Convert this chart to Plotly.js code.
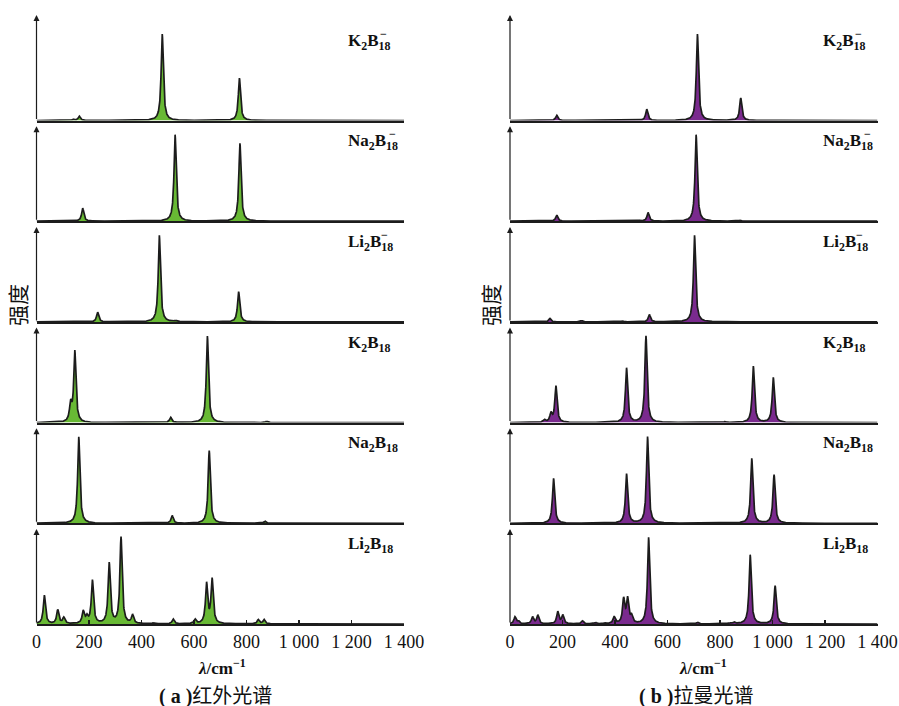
<!DOCTYPE html>
<html>
<head>
<meta charset="utf-8">
<script src="https://cdn.plot.ly/plotly-3.0.1.min.js"></script>
<style>
  html, body { margin: 0; padding: 0; background: #fff; }
  #myPlot { width: 899px; height: 706px; }
</style>
</head>
<body>
<div id="myPlot"></div>
<script>
// peak positions (cm-1) and relative intensities
// (a) IR spectra
let irK2B18m_pos = [140, 163, 479, 773];
let irK2B18m_int = [0.015, 0.05, 1.0, 0.49];
let irNa2B18m_pos = [176, 528, 775];
let irNa2B18m_int = [0.15, 1.0, 0.9];
let irLi2B18m_pos = [233, 468, 530, 770];
let irLi2B18m_int = [0.11, 1.0, 0.012, 0.35];
let irK2B18_pos = [130, 146, 511, 651, 877];
let irK2B18_int = [0.2, 0.82, 0.06, 1.0, 0.015];
let irNa2B18_pos = [161, 517, 658, 870];
let irNa2B18_int = [1.0, 0.09, 0.84, 0.025];
let irLi2B18_pos = [30, 81, 104, 178, 192, 213, 277, 322, 366, 445, 521, 604, 648, 669, 845, 867];
let irLi2B18_int = [0.33, 0.16, 0.07, 0.14, 0.07, 0.5, 0.7, 1.0, 0.1, 0.01, 0.055, 0.05, 0.46, 0.51, 0.05, 0.05];

// (b) Raman spectra
let raK2B18m_pos = [178, 521, 714, 879];
let raK2B18m_int = [0.06, 0.13, 1.0, 0.26];
let raNa2B18m_pos = [178, 489, 526, 709, 877];
let raNa2B18m_int = [0.07, 0.01, 0.1, 1.0, 0.01];
let raLi2B18m_pos = [152, 273, 429, 531, 703];
let raLi2B18m_int = [0.04, 0.015, 0.01, 0.085, 1.0];
let raK2B18_pos = [131, 156, 175, 444, 518, 819, 927, 1003];
let raK2B18_int = [0.03, 0.1, 0.42, 0.63, 1.0, 0.01, 0.65, 0.52];
let raNa2B18_pos = [166, 444, 524, 921, 1006];
let raNa2B18_int = [0.52, 0.57, 1.0, 0.75, 0.56];
let raLi2B18_pos = [19, 32, 86, 106, 182, 201, 276, 326, 362, 397, 433, 448, 463, 528, 714, 834, 853, 915, 1010];
let raLi2B18_int = [0.08, 0.03, 0.08, 0.1, 0.14, 0.1, 0.035, 0.015, 0.01, 0.08, 0.28, 0.28, 0.08, 1.0, 0.02, 0.01, 0.02, 0.8, 0.44];

let panelNames = ['K<sub>2</sub>B<sub>18</sub>', 'Na<sub>2</sub>B<sub>18</sub>', 'Li<sub>2</sub>B<sub>18</sub>',
                  'K<sub>2</sub>B<sub>18</sub>', 'Na<sub>2</sub>B<sub>18</sub>', 'Li<sub>2</sub>B<sub>18</sub>'];
let isAnion = [true, true, true, false, false, false];
let tickVals = [0, 200, 400, 600, 800, 1000, 1200, 1400];
let tickText = ['0', '200', '400', '600', '800', '1 000', '1 200', '1 400'];

let irPos = [irK2B18m_pos, irNa2B18m_pos, irLi2B18m_pos, irK2B18_pos, irNa2B18_pos, irLi2B18_pos];
let irInt = [irK2B18m_int, irNa2B18m_int, irLi2B18m_int, irK2B18_int, irNa2B18_int, irLi2B18_int];
let raPos = [raK2B18m_pos, raNa2B18m_pos, raLi2B18m_pos, raK2B18_pos, raNa2B18_pos, raLi2B18_pos];
let raInt = [raK2B18m_int, raNa2B18m_int, raLi2B18m_int, raK2B18_int, raNa2B18_int, raLi2B18_int];

// lorentzian line shape for the stick spectrum
let HWHM = 5;
function broaden(pos, inten) {
  let xs = [], ys = [];
  for (let x = 0; x <= 1400; x += 0.5) {
    let s = 0;
    for (let k = 0; k < pos.length; k++) {
      let d = (x - pos[k]) / HWHM;
      s += inten[k] / (1 + d * d);
    }
    xs.push(x);
    ys.push(s);
  }
  return [xs, ys];
}

let W = 899, H = 706;
let px = v => v / W;
let py = v => 1 - v / H;
let baselines = [120.5, 221.2, 321.9, 422.6, 523.3, 624.0];
let colLeft = [36.5, 510];   // pixel of x=0
let colWidth = 367.5;        // 0..1400
let fills = ['#68b934', '#7a2a8e'];
let labelX = [346, 821];
let minusDx = [32, 41, 33];

let data = [];
let layout = {
  width: W, height: H,
  margin: {l: 0, r: 0, t: 0, b: 0},
  paper_bgcolor: '#fff',
  plot_bgcolor: 'rgba(0,0,0,0)',
  showlegend: false,
  font: {family: 'Liberation Serif', color: '#111'},
  annotations: []
};

for (let c = 0; c < 2; c++) {
  for (let i = 0; i < 6; i++) {
    let n = c * 6 + i + 1;
    let xs = n === 1 ? '' : String(n);
    let pos = c === 0 ? irPos[i] : raPos[i];
    let inten = c === 0 ? irInt[i] : raInt[i];
    let xy = broaden(pos, inten);
    data.push({
      x: xy[0], y: xy[1],
      xaxis: 'x' + xs, yaxis: 'y' + xs,
      type: 'scatter', mode: 'lines',
      line: {color: '#1c1c1c', width: 1.7},
      fill: 'tozeroy', fillcolor: fills[c],
      hoverinfo: 'skip'
    });
    let b = baselines[i];
    let bottom = i === 5;
    layout['xaxis' + xs] = {
      domain: [px(colLeft[c]), px(colLeft[c] + colWidth)],
      anchor: 'y' + xs,
      range: [0, 1400],
      showgrid: false, zeroline: false,
      showline: true, linecolor: '#1c1c1c', linewidth: 2,
      ticks: bottom ? 'inside' : '',
      ticklen: 4, tickwidth: 1.2, tickcolor: '#1c1c1c',
      tickvals: tickVals, ticktext: tickText,
      showticklabels: bottom,
      tickfont: {family: 'Liberation Serif', size: 18, color: '#111'},
      fixedrange: true
    };
    layout['yaxis' + xs] = {
      domain: [py(b), py(b - 100)],
      anchor: 'x' + xs,
      range: [0, 100 / 86.5],
      showgrid: false, zeroline: false, showline: false,
      showticklabels: false, ticks: '',
      fixedrange: true
    };
    // y axis arrow
    let tip = i === 0 ? 15 : b - 95;
    layout.annotations.push({
      xref: 'paper', yref: 'paper',
      x: px(colLeft[c]), y: py(tip),
      ax: 0, ay: b - tip,
      text: '', showarrow: true,
      arrowhead: 2, arrowsize: 1, arrowwidth: 1.2, arrowcolor: '#1c1c1c',
      standoff: 0, startstandoff: 0
    });
    // compound label
    layout.annotations.push({
      xref: 'paper', yref: 'paper',
      x: px(labelX[c]), y: py(b - 79),
      xanchor: 'left', yanchor: 'middle',
      text: '<b>' + panelNames[i] + '</b>',
      showarrow: false,
      font: {family: 'Liberation Serif', size: 17, color: '#111'}
    });
    if (isAnion[i]) {
      layout.annotations.push({
        xref: 'paper', yref: 'paper',
        x: px(labelX[c] + minusDx[i]), y: py(b - 87),
        xanchor: 'left', yanchor: 'middle',
        text: '<b>\u2212</b>',
        showarrow: false,
        font: {family: 'Liberation Serif', size: 12, color: '#111'}
      });
    }
  }
}

// axis titles, captions and y labels
let colCenter = [222, 703];
let captions = ['<b><span style="font-family:Liberation Serif">( a )</span></b>红外光谱',
                '<b><span style="font-family:Liberation Serif">( b )</span></b>拉曼光谱'];
let yLabelX = [17, 490];
for (let c = 0; c < 2; c++) {
  layout.annotations.push({
    xref: 'paper', yref: 'paper', x: px(colCenter[c]), y: py(667),
    xanchor: 'center', yanchor: 'middle', showarrow: false,
    text: '<b><i>λ</i>/cm<sup>−1</sup></b>',
    font: {family: 'Liberation Serif', size: 17, color: '#111'}
  });
  layout.annotations.push({
    xref: 'paper', yref: 'paper', x: px(colCenter[c] - 7), y: py(694),
    xanchor: 'center', yanchor: 'middle', showarrow: false,
    text: captions[c],
    font: {family: 'Noto Sans CJK SC', size: 20, color: '#111'}
  });
  layout.annotations.push({
    xref: 'paper', yref: 'paper', x: px(yLabelX[c]), y: py(305),
    xanchor: 'center', yanchor: 'middle', showarrow: false,
    text: '强度', textangle: -90,
    font: {family: 'Noto Sans CJK SC', size: 21, color: '#111'}
  });
}

Plotly.newPlot('myPlot', data, layout, {staticPlot: true});
</script>
</body>
</html>
